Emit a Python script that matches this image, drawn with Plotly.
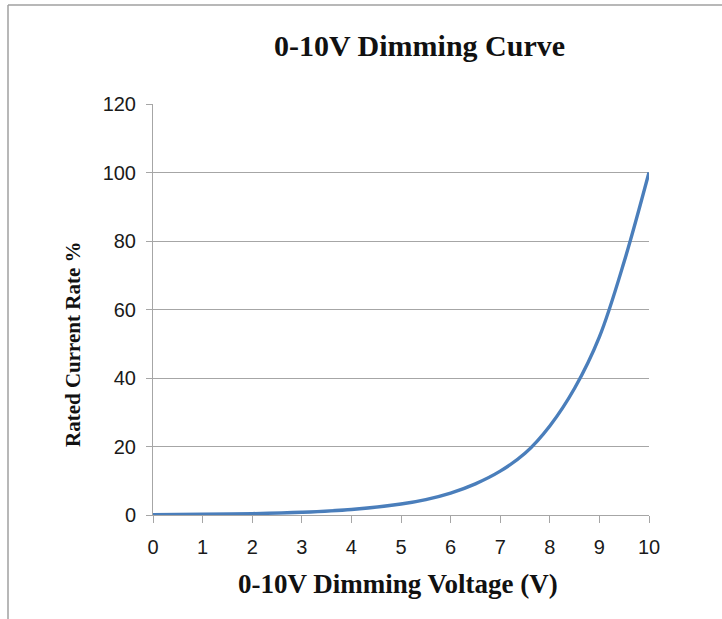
import plotly.graph_objects as go

# Data
voltage = [0, 1, 2, 3, 4, 5, 5.5, 6, 6.5, 7, 7.5, 8, 8.5, 9, 9.5, 10]
current_rate = [0.1, 0.2, 0.4, 0.8, 1.6, 3.2, 4.5, 6.4, 9.1, 12.8, 18, 26, 37, 52, 74, 100]

x_ticks = [0, 1, 2, 3, 4, 5, 6, 7, 8, 9, 10]
y_ticks = [0, 20, 40, 60, 80, 100, 120]

title_text = "0-10V Dimming Curve"
x_title = "0-10V Dimming Voltage (V)"
y_title = "Rated Current Rate %"

W, H = 722, 619
L, R, T, B = 153, 73, 104, 104

fig = go.Figure()
fig.add_trace(go.Scatter(
    x=voltage, y=current_rate, mode="lines",
    line=dict(color="#4a7ebb", width=3.4, shape="spline", smoothing=1.0),
    showlegend=False, hoverinfo="x+y",
))

grid_col = "#a6a6a6"
tick_font = dict(family="Liberation Sans, Arial, sans-serif", size=20, color="#1a1a1a")
fig.update_xaxes(
    range=[0, 10], tickvals=x_ticks, ticktext=[str(v) for v in x_ticks],
    showgrid=False, zeroline=False, showline=True, linecolor=grid_col, linewidth=1,
    ticks="outside", ticklen=7, tickcolor=grid_col, tickwidth=1,
    tickfont=tick_font, ticklabelstandoff=7,
    fixedrange=True,
)
fig.update_yaxes(
    range=[0, 120], tickvals=y_ticks, ticktext=[str(v) for v in y_ticks],
    showgrid=True, gridcolor=grid_col, gridwidth=1, zeroline=False,
    showline=True, linecolor=grid_col, linewidth=1,
    ticks="outside", ticklen=6, tickcolor=grid_col, tickwidth=1,
    tickfont=tick_font, ticklabelstandoff=6,
    fixedrange=True,
)

# helpers: convert container pixel positions to plot-area paper coordinates
px = lambda x: (x - L) / (W - L - R)
py = lambda y: 1 - (y - T) / (H - T - B)

serif = "Liberation Serif, Times New Roman, serif"
fig.update_layout(
    width=W, height=H, autosize=False,
    margin=dict(l=L, r=R, t=T, b=B, pad=0),
    paper_bgcolor="white", plot_bgcolor="white",
    annotations=[
        dict(text="<b>%s</b>" % title_text, x=px(419), y=py(46), xref="paper", yref="paper",
             xanchor="center", yanchor="middle", showarrow=False,
             font=dict(family=serif, size=30, color="#111")),
        dict(text="<b>%s</b>" % x_title, x=px(398), y=py(584), xref="paper", yref="paper",
             xanchor="center", yanchor="middle", showarrow=False,
             font=dict(family=serif, size=27, color="#111")),
        dict(text="<b>%s</b>" % y_title, x=px(73), y=py(344), xref="paper", yref="paper",
             xanchor="center", yanchor="middle", showarrow=False, textangle=-90,
             font=dict(family=serif, size=21, color="#111")),
    ],
    shapes=[
        dict(type="line", xref="paper", yref="paper", x0=px(8), x1=px(8), y0=py(H + 5), y1=py(5),
             line=dict(color="#a0a0a0", width=1.5)),
        dict(type="line", xref="paper", yref="paper", x0=px(8), x1=px(W + 5), y0=py(5), y1=py(5),
             line=dict(color="#a0a0a0", width=1.5)),
    ],
)

fig.write_html("out.html", config={"displayModeBar": False},
               post_script="document.body.style.margin='0';document.body.style.overflow='hidden';")
